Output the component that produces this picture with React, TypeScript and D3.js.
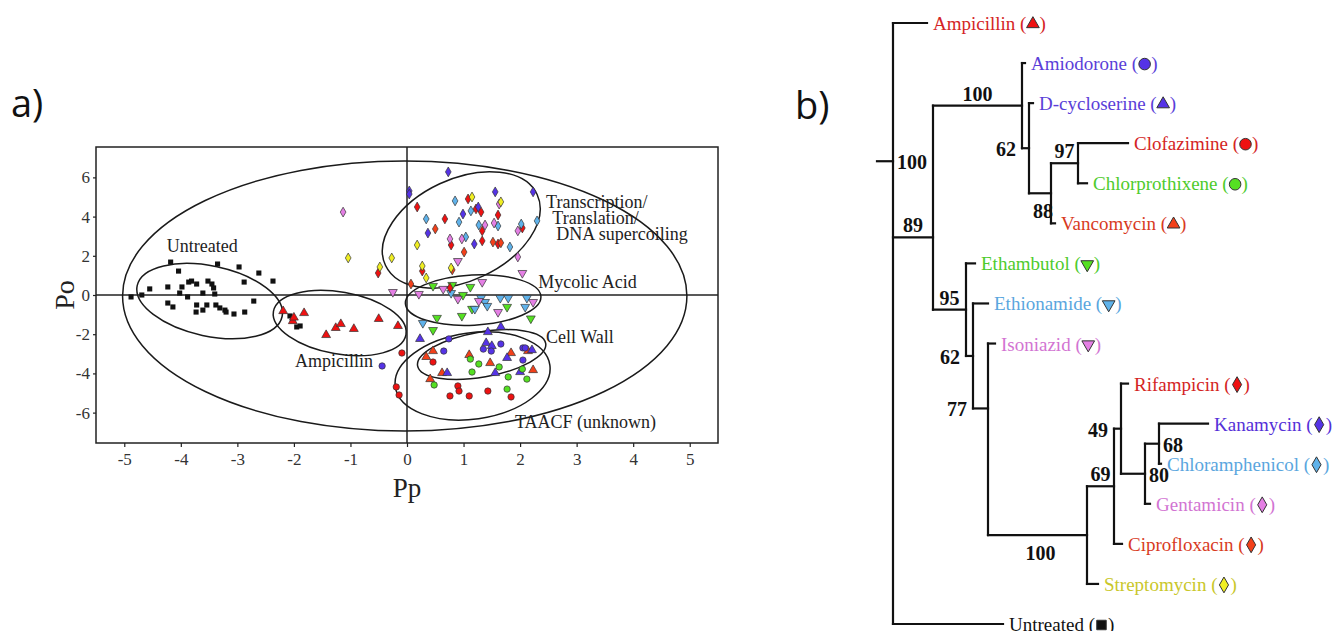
import React, { useEffect, useRef } from "react";
import * as d3 from "d3";

// ---- panel a: PLS scores (Pp, Po) per treatment ----
const untreated = [
  [-4.18, 1.68], [-3.35, 1.58], [-2.97, 1.43], [-4.04, 1.22], [-2.62, 1.12], [-2.37, 0.71],
  [-2.88, 0.66], [-4.55, 0.31], [-4.23, 0.41], [-3.98, 0.41], [-3.86, 0.66], [-3.81, 0.71],
  [-3.72, 0.56], [-3.52, 0.71], [-3.45, 0.56], [-3.42, 0.36], [-4.02, 0.1], [-3.88, -0.1],
  [-3.61, 0.1], [-3.4, 0.05], [-4.88, -0.1], [-4.69, 0], [-2.71, -0.31], [-4.23, -0.41],
  [-4.14, -0.61], [-3.72, -0.51], [-3.73, -0.87], [-3.61, -0.77], [-3.54, -0.51], [-3.38, -0.51],
  [-3.31, -0.66], [-3.22, -0.77], [-3.2, -0.87], [-3.06, -0.97], [-2.87, -0.87], [-2.07, -1.07],
  [-2.02, -1.28], [-1.95, -1.63], [-1.89, -1.58],
];
const ampicillin = [
  [-2.19, -0.82], [-2.02, -1.33], [-2.0, -1.15], [-1.82, -0.92], [-1.43, -2.04], [-1.26, -1.68],
  [-1.17, -1.48], [-0.94, -1.73], [-0.5, -1.22], [-0.16, -1.58],
];
const vancomycin = [
  [2.14, -2.86], [0.46, -2.86], [1.84, -2.96], [1.1, -3.06], [0.34, -3.16], [1.47, -3.47],
  [0.62, -3.98], [2.23, -3.83], [0.41, -4.29],
];
const dCycloserine = [
  [1.43, -1.89], [1.66, -1.63], [0.23, -2.24], [1.4, -2.45], [1.5, -2.6], [2.21, -2.81],
  [1.77, -3.21], [1.56, -3.98], [0.71, -3.98], [2.0, -3.93],
];
const amiodorone = [
  [0.74, -2.24], [1.35, -2.76], [1.49, -2.86], [1.66, -2.5], [2.05, -2.7], [2.09, -2.7],
  [0.65, -2.86], [2.05, -3.32], [-0.44, -3.62],
];
const clofazimine = [
  [-0.09, -2.96], [-0.19, -4.69], [-0.14, -5.1], [0.46, -3.42], [0.9, -4.64], [0.92, -4.9],
  [1.43, -4.9], [0.76, -5.15], [1.1, -5.15], [1.84, -5.2],
];
const chlorprothixene = [
  [1.12, -3.27], [1.27, -3.52], [1.63, -3.67], [1.15, -3.93], [2.04, -3.78], [1.79, -4.18],
  [2.12, -4.29], [0.48, -4.59], [1.77, -4.8],
];
const ethambutol = [
  [0.46, 0.46], [0.8, 0.51], [1.12, 0.41], [0.99, 0.0], [1.77, -0.61], [1.15, -0.71],
  [0.97, -1.07], [2.19, -1.2], [0.53, -1.17], [0.46, -1.79],
];
const ethionamide = [
  [0.78, 0.1], [1.31, -0.15], [1.38, -0.36], [1.65, -0.15], [1.79, -0.15], [1.42, -0.56],
  [1.2, -0.71], [2.12, -0.15], [2.09, -0.61], [0.28, -1.43],
];
const isoniazid = [
  [-0.25, 0.15], [0.9, 1.73], [2.04, 1.12], [0.64, 0.31], [1.33, 0.66], [0.21, 0.05],
  [0.9, -0.2], [1.27, -0.31], [2.23, -0.36], [1.61, -0.87],
];
const rifampicin = [
  [0.18, 4.49], [1.08, 4.9], [1.22, 4.39], [1.31, 4.23], [1.61, 4.08], [0.67, 3.88],
  [1.33, 3.27], [2.04, 3.42], [0.78, 2.55], [1.33, 2.76], [1.61, 2.6], [0.27, 1.22],
  [-0.51, 1.12], [0.76, 0.36],
];
const ciprofloxacin = [[0.5, 3.37], [1.01, 2.19], [1.52, 2.7], [1.66, 2.66], [0.8, 1.28], [0.07, 0.56]];
const kanamycin = [
  [0.73, 6.28], [0.04, 5.31], [0.04, 5.15], [1.56, 5.26], [2.23, 5.26], [0.99, 4.13],
  [1.26, 4.49], [0.37, 3.16], [1.19, 2.6],
];
const chloramphenicol = [
  [0.85, 4.8], [1.13, 4.29], [0.34, 3.88], [0.92, 3.72], [1.27, 3.57], [1.61, 3.52],
  [2.02, 3.62], [2.3, 3.78], [1.04, 2.96], [1.82, 2.45],
];
const gentamicin = [[-1.13, 4.23], [1.63, 4.64], [1.38, 3.57], [1.54, 3.67], [1.96, 3.27], [0.76, 2.86], [0.97, 2.86], [1.96, 1.94]];
const streptomycin = [
  [1.15, 5.0], [1.66, 4.75], [-1.04, 1.89], [-0.27, 1.89], [-0.48, 1.43], [0.18, 2.55],
  [0.27, 1.48], [0.78, 1.38], [0.34, 0.87],
];

const drugs = [
  { name: "Untreated", shape: "square", fill: "#111", text: "#111", pts: untreated },
  { name: "Ampicillin", shape: "up", fill: "#ee1111", text: "#d42424", pts: ampicillin },
  { name: "Vancomycin", shape: "up", fill: "#f2401a", text: "#d83a1e", pts: vancomycin },
  { name: "D-cycloserine", shape: "up", fill: "#5533e6", text: "#5a3ed8", pts: dCycloserine },
  { name: "Amiodorone", shape: "circle", fill: "#5533e6", text: "#5a3ed8", pts: amiodorone },
  { name: "Clofazimine", shape: "circle", fill: "#ee1111", text: "#d42424", pts: clofazimine },
  { name: "Chlorprothixene", shape: "circle", fill: "#55e022", text: "#4ecb2c", pts: chlorprothixene },
  { name: "Ethambutol", shape: "down", fill: "#55e022", text: "#4ecb2c", pts: ethambutol },
  { name: "Ethionamide", shape: "down", fill: "#5fb2ea", text: "#5aa6de", pts: ethionamide },
  { name: "Isoniazid", shape: "down", fill: "#e47fe4", text: "#d274d2", pts: isoniazid },
  { name: "Rifampicin", shape: "diamond", fill: "#ee1111", text: "#d42424", pts: rifampicin },
  { name: "Ciprofloxacin", shape: "diamond", fill: "#f2401a", text: "#d83a1e", pts: ciprofloxacin },
  { name: "Kanamycin", shape: "diamond", fill: "#5533e6", text: "#5530d8", pts: kanamycin },
  { name: "Chloramphenicol", shape: "diamond", fill: "#5fb2ea", text: "#5aa6de", pts: chloramphenicol },
  { name: "Gentamicin", shape: "diamond", fill: "#e47fe4", text: "#d274d2", pts: gentamicin },
  { name: "Streptomycin", shape: "diamond", fill: "#f0ee22", text: "#c9c72a", pts: streptomycin },
];

// cluster ellipses: centre (Pp, Po), semi-axes in axis units, tilt in degrees
const groups = [
  { cx: -0.04, cy: -0.05, rx: 4.99, ry: 6.89, angle: 0 },
  { cx: -3.49, cy: -0.31, rx: 1.31, ry: 1.79, angle: 12 },
  { cx: -1.19, cy: -1.43, rx: 1.19, ry: 1.58, angle: 10 },
  { cx: 0.96, cy: 3.32, rx: 1.48, ry: 2.6, angle: -25 },
  { cx: 1.17, cy: -0.26, rx: 1.2, ry: 1.28, angle: -3 },
  { cx: 1.32, cy: -3.04, rx: 1.15, ry: 1.15, angle: -10 },
  { cx: 1.16, cy: -4.13, rx: 1.38, ry: 2.2, angle: -8 },
];
const groupLabels: [string, number, number][] = [
  ["Untreated", -4.25, 2.19],
  ["Ampicillin", -1.98, -3.67],
  ["Transcription/", 2.46, 4.44],
  ["Translation/", 2.57, 3.62],
  ["DNA supercoiling", 2.64, 2.81],
  ["Mycolic Acid", 2.32, 0.36],
  ["Cell Wall", 2.46, -2.45],
  ["TAACF (unknown)", 1.91, -6.79],
];
const xTicks = [-5, -4, -3, -2, -1, 0, 1, 2, 3, 4, 5];
const yTicks = [-6, -4, -2, 0, 2, 4, 6];

// ---- panel b: dendrogram (dist = distance from root, boot = bootstrap) ----
const tree = {
  id: "root", dist: 0, boot: "100", children: [
    { name: "Ampicillin", dist: 34 },
    { id: "n89", dist: 40, boot: "89", children: [
      { id: "n100a", dist: 129, boot: "100", children: [
        { name: "Amiodorone", dist: 132 },
        { id: "n62a", dist: 136, boot: "62", children: [
          { name: "D-cycloserine", dist: 140 },
          { id: "n88", dist: 158, boot: "88", children: [
            { id: "n97", dist: 185, boot: "97", children: [
              { name: "Clofazimine", dist: 235 },
              { name: "Chlorprothixene", dist: 194 },
            ] },
            { name: "Vancomycin", dist: 162 },
          ] },
        ] },
      ] },
      { id: "n95", dist: 73, boot: "95", children: [
        { name: "Ethambutol", dist: 82 },
        { id: "n62b", dist: 80, boot: "62", children: [
          { name: "Ethionamide", dist: 95 },
          { id: "n77", dist: 95, boot: "77", children: [
            { name: "Isoniazid", dist: 102 },
            { id: "n100b", dist: 194, boot: "100", children: [
              { id: "n69", dist: 221, boot: "69", children: [
                { id: "n49", dist: 228, boot: "49", children: [
                  { name: "Rifampicin", dist: 235 },
                  { id: "n80", dist: 252, boot: "80", children: [
                    { id: "n68", dist: 266, boot: "68", children: [
                      { name: "Kanamycin", dist: 315 },
                      { name: "Chloramphenicol", dist: 268 },
                    ] },
                    { name: "Gentamicin", dist: 257 },
                  ] },
                ] },
                { name: "Ciprofloxacin", dist: 229 },
              ] },
              { name: "Streptomycin", dist: 205 },
            ] },
          ] },
        ] },
      ] },
    ] },
    { name: "Untreated", dist: 110 },
  ],
};
// rows (in leaf units) of nodes not drawn at their children's midpoint
const nodeRows: Record<string, number> = { root: 3.45, n89: 5.35, n77: 9.62 };
// where each bootstrap number sits
const bootPlace: Record<string, string> = {
  root: "right", n89: "above", n100a: "above", n62a: "left", n88: "below", n97: "above",
  n95: "above", n62b: "left", n77: "left", n100b: "below", n69: "above", n49: "left",
  n80: "right", n68: "right",
};

const SERIF = "'Liberation Serif', 'Times New Roman', serif";

function symbolPath(shape: string, size: number) {
  const t =
    shape === "square" ? d3.symbolSquare :
    shape === "circle" ? d3.symbolCircle :
    shape === "diamond" ? d3.symbolDiamond : d3.symbolTriangle;
  return d3.symbol().type(t).size(size)() as string;
}

export default function App() {
  const ref = useRef<SVGSVGElement>(null);

  useEffect(() => {
    const svg = d3.select(ref.current);
    svg.selectAll("*").remove();

    // ===== panel a =====
    const x = d3.scaleLinear().domain([-5.5, 5.5]).range([96, 718]);
    const y = d3.scaleLinear().domain([-7.55, 7.55]).range([443, 147]);
    const a = svg.append("g");

    a.append("text").attr("x", 11).attr("y", 117).attr("font-family", "'Open Sans', sans-serif")
      .attr("font-size", 38).attr("fill", "#111").text("a)");

    a.append("line").attr("x1", x(0)).attr("x2", x(0)).attr("y1", y(7.55)).attr("y2", y(-7.55))
      .attr("stroke", "#222").attr("stroke-width", 1.5);
    a.append("line").attr("x1", x(-5.5)).attr("x2", x(5.5)).attr("y1", y(0)).attr("y2", y(0))
      .attr("stroke", "#222").attr("stroke-width", 1.5);

    const xa = a.append("g").attr("transform", `translate(0,${y(-7.55)})`)
      .call(d3.axisBottom(x).tickValues(xTicks).tickSize(4).tickPadding(6).tickFormat(d3.format("d")));
    const ya = a.append("g").attr("transform", `translate(${x(-5.5)},0)`)
      .call(d3.axisLeft(y).tickValues(yTicks).tickSize(3).tickPadding(3).tickFormat(d3.format("d")));
    [xa, ya].forEach((g) => {
      g.select(".domain").remove();
      g.selectAll("line").attr("stroke", "#222").attr("stroke-width", 1.2);
      g.selectAll("text").attr("font-family", SERIF).attr("font-size", 17).attr("fill", "#333");
    });
    xa.selectAll("text").text((d: any) => (d < 0 ? "-" + Math.abs(d) : String(d)));
    ya.selectAll("text").text((d: any) => (d < 0 ? "-" + Math.abs(d) : String(d)));

    a.append("rect").attr("x", x(-5.5)).attr("y", y(7.55)).attr("width", x(5.5) - x(-5.5))
      .attr("height", y(-7.55) - y(7.55)).attr("fill", "none").attr("stroke", "#222").attr("stroke-width", 1.5);

    a.append("text").attr("transform", `translate(74,${y(0)}) rotate(-90)`).attr("text-anchor", "middle")
      .attr("font-family", SERIF).attr("font-size", 28).attr("fill", "#222").text("Po");
    a.append("text").attr("x", x(0)).attr("y", 497).attr("text-anchor", "middle")
      .attr("font-family", SERIF).attr("font-size", 27).attr("fill", "#222").text("Pp");

    const ux = x(1) - x(0);
    const uy = y(0) - y(1);
    a.selectAll("ellipse.grp").data(groups).join("ellipse").attr("class", "grp")
      .attr("transform", (g) => `translate(${x(g.cx)},${y(g.cy)}) rotate(${g.angle})`)
      .attr("rx", (g) => g.rx * ux).attr("ry", (g) => g.ry * uy)
      .attr("fill", "none").attr("stroke", "#1a1a1a").attr("stroke-width", 1.5);

    const sizes: Record<string, number> = { square: 26, up: 34, down: 34, circle: 32, diamond: 28 };
    drugs.forEach((dr) => {
      a.append("g").selectAll("path").data(dr.pts).join("path")
        .attr("d", symbolPath(dr.shape, sizes[dr.shape]))
        .attr("transform", (p) => `translate(${x(p[0])},${y(p[1])})${dr.shape === "down" ? " rotate(180)" : ""}`)
        .attr("fill", dr.fill)
        .attr("stroke", dr.shape === "square" ? "none" : "#333")
        .attr("stroke-width", 0.7);
    });

    a.selectAll("text.glab").data(groupLabels).join("text").attr("class", "glab")
      .attr("x", (l) => x(l[1])).attr("y", (l) => y(l[2]))
      .attr("font-family", SERIF).attr("font-size", 18).attr("fill", "#222").text((l) => l[0]);

    // ===== panel b =====
    const b = svg.append("g");
    b.append("text").attr("x", 795).attr("y", 119).attr("font-family", "'Open Sans', sans-serif")
      .attr("font-size", 38).attr("fill", "#111").text("b)");

    const root: any = d3.hierarchy(tree as any);
    const leaves = root.leaves();
    const rowY = d3.scaleLinear().domain([0, leaves.length - 1]).range([23, 624]);
    const distX = d3.scaleLinear().domain([0, 315]).range([893, 1208]);
    leaves.forEach((l: any, i: number) => (l.row = i));
    root.eachAfter((n: any) => {
      if (!n.children) return;
      const ov = nodeRows[n.data.id];
      n.row = ov !== undefined ? ov : (n.children[0].row + n.children[n.children.length - 1].row) / 2;
    });

    const line = (x1: number, y1: number, x2: number, y2: number) =>
      b.append("line").attr("x1", x1).attr("y1", y1).attr("x2", x2).attr("y2", y2)
        .attr("stroke", "#111").attr("stroke-width", 2.2).attr("stroke-linecap", "square");

    line(distX(-16), rowY(root.row), distX(0), rowY(root.row));
    root.each((n: any) => {
      if (!n.children) return;
      const nx = distX(n.data.dist);
      const ys = n.children.map((c: any) => rowY(c.row));
      line(nx, d3.min(ys) as number, nx, d3.max(ys) as number);
      n.children.forEach((c: any) => line(nx, rowY(c.row), distX(c.data.dist), rowY(c.row)));
    });

    // bootstrap values
    root.each((n: any) => {
      if (!n.children || !n.data.boot) return;
      const nx = distX(n.data.dist);
      const ny = rowY(n.row);
      const px = n.parent ? distX(n.parent.data.dist) : nx;
      const place = bootPlace[n.data.id];
      const t = b.append("text").attr("font-family", SERIF).attr("font-weight", "bold")
        .attr("font-size", 20).attr("fill", "#111").text(n.data.boot);
      if (place === "above") t.attr("x", (px + nx) / 2).attr("y", ny - 5).attr("text-anchor", "middle");
      else if (place === "below") t.attr("x", (px + nx) / 2 + 3).attr("y", ny + 25).attr("text-anchor", "middle");
      else if (place === "left") t.attr("x", px - 6).attr("y", ny + 8).attr("text-anchor", "end");
      else t.attr("x", nx + 4).attr("y", ny + 8).attr("text-anchor", "start");
    });

    // leaf labels with their plot symbol
    const tsizes: Record<string, number> = { square: 90, up: 70, down: 70, circle: 105, diamond: 72 };
    leaves.forEach((l: any) => {
      const dr = drugs.find((d) => d.name === l.data.name)!;
      const lx = distX(l.data.dist) + 6;
      const ly = rowY(l.row);
      const t = b.append("text").attr("x", lx).attr("y", ly + 7).attr("font-family", SERIF)
        .attr("font-size", 19).attr("fill", dr.text).text(`${dr.name} (`);
      const len = (t.node() as SVGTextElement).getComputedTextLength();
      b.append("path").attr("d", symbolPath(dr.shape, tsizes[dr.shape]))
        .attr("transform", `translate(${lx + len + 6.5},${ly + 1})${dr.shape === "down" ? " rotate(180)" : ""}`)
        .attr("fill", dr.fill).attr("stroke", "#333").attr("stroke-width", 1);
      b.append("text").attr("x", lx + len + 13).attr("y", ly + 7).attr("font-family", SERIF)
        .attr("font-size", 19).attr("fill", dr.text).text(")");
    });
  }, []);

  return (
    <svg
      ref={ref}
      width={1337}
      height={631}
      style={{ position: "absolute", left: 0, top: 0, background: "#fff" }}
    />
  );
}
